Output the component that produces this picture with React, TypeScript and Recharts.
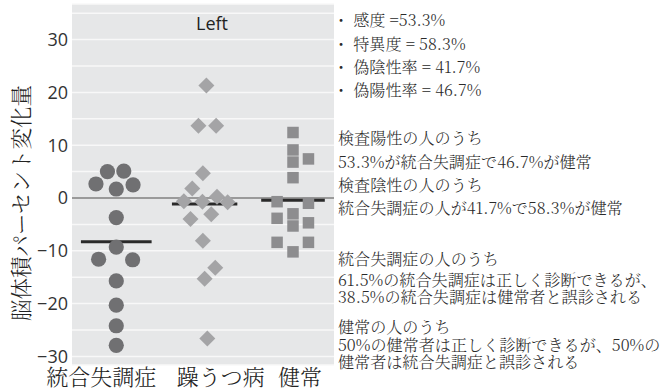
import { ScatterChart, Scatter, XAxis, YAxis, CartesianGrid, ReferenceLine } from "recharts"

// group names along the x axis
const groups = ["統合失調症", "躁うつ病", "健常"]

// percent change of brain volume, one array per group
const schizoValues = [2.65, 5.0, 5.1, 1.7, 2.5, -3.7, -9.3, -11.6, -11.7, -15.7, -20.3, -24.2, -27.9]
const schizoJitter = [-0.23, -0.1, 0.085, 0, 0.19, 0, 0, -0.2, 0.185, 0, 0, 0, 0]

const bipolarValues = [21.3, 13.7, 13.7, 4.7, 1.8, 0.25, -0.6, -0.7, -0.8, -3.1, -4.0, -8.1, -13.2, -15.3, -26.6]
const bipolarJitter = [0.02, -0.07, 0.13, -0.02, -0.14, 0.14, -0.235, -0.025, 0.26, 0.075, -0.16, -0.02, 0.12, 0, 0.03]

const healthyValues = [12.4, 9.1, 6.8, 7.4, 3.85, -0.7, -1.0, -3.85, -3.0, -5.3, -4.7, -8.4, -8.4, -10.2]
const healthyJitter = [0, 0, 0, 0.175, 0, -0.18, 0.175, -0.18, 0, 0, 0.175, -0.18, 0.175, 0]

const yTicks = [-30, -25, -20, -15, -10, -5, 0, 5, 10, 15, 20, 25, 30, 35]

const title = "Left"
const yLabel = "脳体積パーセント変化量"

// side notes, one array per paragraph
const rateNotes = ["・ 感度 =53.3%", "・ 特異度 = 58.3%", "・ 偽陰性率 = 41.7%", "・ 偽陽性率 = 46.7%"]
const testNotes = [
  "検査陽性の人のうち",
  "53.3%が統合失調症で46.7%が健常",
  "検査陰性の人のうち",
  "統合失調症の人が41.7%で58.3%が健常",
]
const schizoHead = ["統合失調症の人のうち"]
const schizoNotes = ["61.5%の統合失調症は正しく診断できるが、", "38.5%の統合失調症は健常者と誤診される"]
const healthyNotes = ["健常の人のうち", "50%の健常者は正しく診断できるが、50%の", "健常者は統合失調症と誤診される"]

const noteBlocks = [rateNotes, testNotes, schizoHead, schizoNotes, healthyNotes]
// first-line centre, line height, left edge
const blockLayout = [
  [20, 23.3, 333],
  [138, 23.3, 338],
  [258, 20, 338],
  [279, 17, 338],
  [327, 17.5, 338],
]

const toPoints = (slot: number, values: number[], jitter: number[]) =>
  values.map((v, i) => ({ x: slot + jitter[i], y: v }))

const mean = (values: number[]) => values.reduce((s, v) => s + v, 0) / values.length

const schizoData = toPoints(1, schizoValues, schizoJitter)
const bipolarData = toPoints(2, bipolarValues, bipolarJitter)
const healthyData = toPoints(3, healthyValues, healthyJitter)

const means = [mean(schizoValues), mean(bipolarValues), mean(healthyValues)]
const meanHalfWidth = [0.4, 0.37, 0.36]

const serifJP = "'Noto Serif CJK JP', 'Liberation Serif', 'Noto Sans CJK JP', serif"
const sans = "'Open Sans', 'Noto Sans', sans-serif"

const labelShift = [-15, 16, 7]

const CircleDot = (props: any) => <circle cx={props.cx} cy={props.cy} r={7.6} fill="#707072" />

const DiamondDot = (props: any) => {
  const { cx, cy } = props
  const r = 8
  return <path d={`M${cx},${cy - r}L${cx + r},${cy}L${cx},${cy + r}L${cx - r},${cy}Z`} fill="#a4a4a6" />
}

const SquareDot = (props: any) => {
  const s = 11.5
  return <rect x={props.cx - s / 2} y={props.cy - s / 2} width={s} height={s} fill="#8d8d8f" />
}

const CategoryTick = (props: any) => {
  const i = props.payload.value - 1
  return (
    <text
      x={props.x + labelShift[i]}
      y={props.y + 20}
      textAnchor="middle"
      fontFamily={serifJP}
      fontSize={22}
      fontWeight={300}
      fill="#222"
    >
      {groups[i]}
    </text>
  )
}

const formatY = (v: number) => (v % 10 === 0 ? String(v).replace("-", "\u2212") : "")

export default function App() {
  return (
    <div style={{ position: "absolute", left: 0, top: 0, width: 661, height: 391, background: "#fff" }}>
      <ScatterChart width={661} height={391} margin={{ top: 4, right: 327, bottom: 0, left: 0 }}>
        <CartesianGrid vertical={false} fill="#e6e7e8" stroke="#f8f8f8" strokeWidth={1.5} />
        <XAxis
          type="number"
          dataKey="x"
          domain={[0.499, 3.464]}
          ticks={[1, 2, 3]}
          allowDataOverflow
          axisLine={false}
          tickLine={false}
          tickSize={0}
          tickMargin={0}
          height={26}
          interval={0}
          tick={<CategoryTick />}
        />
        <YAxis
          type="number"
          dataKey="y"
          domain={[-31.63, 36.74]}
          ticks={yTicks}
          allowDataOverflow
          interval={0}
          axisLine={false}
          tickLine={false}
          tickSize={0}
          tickMargin={4}
          width={72}
          tickFormatter={formatY}
          tick={{ fill: "#333", fontSize: 18, fontFamily: sans }}
          label={{
            content: () => (
              <text
                transform="translate(19,203) rotate(-90)"
                textAnchor="middle"
                dominantBaseline="central"
                fontFamily={serifJP}
                fontSize={21.5}
                fontWeight={300}
                fill="#222"
              >
                {yLabel}
              </text>
            ),
          }}
        />
        <ReferenceLine y={0} stroke="#7d7d7d" strokeWidth={1.5} />
        <Scatter data={schizoData} shape={CircleDot} isAnimationActive={false} />
        <Scatter data={bipolarData} shape={DiamondDot} isAnimationActive={false} />
        <Scatter data={healthyData} shape={SquareDot} isAnimationActive={false} />
        {means.map((m, i) => (
          <ReferenceLine
            key={groups[i]}
            segment={[
              { x: i + 1 - meanHalfWidth[i], y: m },
              { x: i + 1 + meanHalfWidth[i], y: m },
            ]}
            stroke="#2a2a2a"
            strokeWidth={3}
          />
        ))}
      </ScatterChart>
      <div
        style={{
          position: "absolute",
          left: 212,
          top: 11,
          transform: "translateX(-50%)",
          fontFamily: sans,
          fontSize: 18,
          fontWeight: 500,
          lineHeight: "24px",
          color: "#222",
        }}
      >
        {title}
      </div>
      {noteBlocks.map((lines, b) => {
        const [center, lh, left] = blockLayout[b]
        return (
          <div
            key={b}
            style={{
              position: "absolute",
              left,
              top: center - lh / 2,
              fontFamily: serifJP,
              fontSize: 16.1,
              fontWeight: 300,
              lineHeight: `${lh}px`,
              color: "#2a2a2a",
              whiteSpace: "nowrap",
            }}
          >
            {lines.map((t, i) => (
              <span key={i}>
                {t}
                {i < lines.length - 1 && <br />}
              </span>
            ))}
          </div>
        )
      })}
    </div>
  )
}
